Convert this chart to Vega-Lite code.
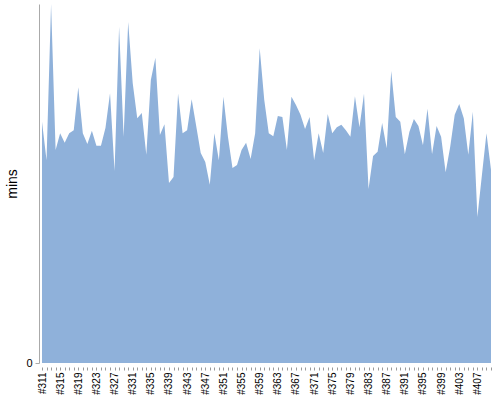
{
  "$schema": "https://vega.github.io/schema/vega-lite/v6.json",
  "autosize": {"type": "none"},
  "padding": {"left": 42, "top": 4, "right": 9, "bottom": 37},
  "width": 449,
  "height": 359,
  "background": "white",
  "config": {"view": {"stroke": null}, "font": "Liberation Sans"},
  "data": {"values": [
    {"run": "#311", "mins": 40.3}, {"run": "#312", "mins": 33.9}, {"run": "#313", "mins": 60.0}, {"run": "#314", "mins": 35.6},
    {"run": "#315", "mins": 38.4}, {"run": "#316", "mins": 36.8}, {"run": "#317", "mins": 38.4}, {"run": "#318", "mins": 38.9},
    {"run": "#319", "mins": 46.1}, {"run": "#320", "mins": 38.4}, {"run": "#321", "mins": 36.6}, {"run": "#322", "mins": 38.8},
    {"run": "#323", "mins": 36.3}, {"run": "#324", "mins": 36.3}, {"run": "#325", "mins": 39.3}, {"run": "#326", "mins": 45.1},
    {"run": "#327", "mins": 32.1}, {"run": "#328", "mins": 56.2}, {"run": "#329", "mins": 37.8}, {"run": "#330", "mins": 57.0},
    {"run": "#331", "mins": 46.8}, {"run": "#332", "mins": 40.9}, {"run": "#333", "mins": 41.8}, {"run": "#334", "mins": 34.8},
    {"run": "#335", "mins": 47.3}, {"run": "#336", "mins": 51.0}, {"run": "#337", "mins": 38.1}, {"run": "#338", "mins": 39.9},
    {"run": "#339", "mins": 30.1}, {"run": "#340", "mins": 31.1}, {"run": "#341", "mins": 45.0}, {"run": "#342", "mins": 38.4},
    {"run": "#343", "mins": 38.9}, {"run": "#344", "mins": 44.1}, {"run": "#345", "mins": 39.6}, {"run": "#346", "mins": 35.1},
    {"run": "#347", "mins": 33.6}, {"run": "#348", "mins": 29.8}, {"run": "#349", "mins": 38.4}, {"run": "#350", "mins": 33.9},
    {"run": "#351", "mins": 44.5}, {"run": "#352", "mins": 37.8}, {"run": "#353", "mins": 32.6}, {"run": "#354", "mins": 33.1},
    {"run": "#355", "mins": 35.6}, {"run": "#356", "mins": 36.8}, {"run": "#357", "mins": 34.1}, {"run": "#358", "mins": 38.4},
    {"run": "#359", "mins": 52.6}, {"run": "#360", "mins": 44.0}, {"run": "#361", "mins": 38.4}, {"run": "#362", "mins": 37.9},
    {"run": "#363", "mins": 41.3}, {"run": "#364", "mins": 41.1}, {"run": "#365", "mins": 35.6}, {"run": "#366", "mins": 44.5},
    {"run": "#367", "mins": 43.1}, {"run": "#368", "mins": 41.5}, {"run": "#369", "mins": 39.1}, {"run": "#370", "mins": 41.1},
    {"run": "#371", "mins": 33.9}, {"run": "#372", "mins": 38.4}, {"run": "#373", "mins": 35.1}, {"run": "#374", "mins": 41.6},
    {"run": "#375", "mins": 38.4}, {"run": "#376", "mins": 39.4}, {"run": "#377", "mins": 39.8}, {"run": "#378", "mins": 38.9},
    {"run": "#379", "mins": 37.8}, {"run": "#380", "mins": 44.6}, {"run": "#381", "mins": 39.4}, {"run": "#382", "mins": 45.0},
    {"run": "#383", "mins": 29.1}, {"run": "#384", "mins": 34.6}, {"run": "#385", "mins": 35.3}, {"run": "#386", "mins": 40.1},
    {"run": "#387", "mins": 35.9}, {"run": "#388", "mins": 48.8}, {"run": "#389", "mins": 41.1}, {"run": "#390", "mins": 40.3},
    {"run": "#391", "mins": 34.9}, {"run": "#392", "mins": 38.6}, {"run": "#393", "mins": 40.8}, {"run": "#394", "mins": 39.6},
    {"run": "#395", "mins": 36.4}, {"run": "#396", "mins": 42.5}, {"run": "#397", "mins": 34.9}, {"run": "#398", "mins": 39.6},
    {"run": "#399", "mins": 37.8}, {"run": "#400", "mins": 31.9}, {"run": "#401", "mins": 36.1}, {"run": "#402", "mins": 41.5},
    {"run": "#403", "mins": 43.3}, {"run": "#404", "mins": 40.9}, {"run": "#405", "mins": 34.8}, {"run": "#406", "mins": 42.0},
    {"run": "#407", "mins": 24.4}, {"run": "#408", "mins": 31.4}, {"run": "#409", "mins": 38.4}, {"run": "#410", "mins": 32.3}
  ]},
  "mark": {"type": "area", "color": "#8fb1da", "interpolate": "linear", "clip": true},
  "encoding": {
    "x": {
      "field": "run", "type": "ordinal", "sort": null,
      "scale": {"type": "point", "padding": 0},
      "axis": {
        "title": null, "labelAngle": -90, "offset": 4, "domain": false,
        "tickSize": 3, "tickColor": "#999", "labelPadding": 2,
        "labelFontSize": 10, "labelColor": "#000", "labelOverlap": false,
        "labelExpr": "toNumber(slice(datum.value, 1)) % 4 == 3 ? datum.value : ''"
      }
    },
    "y": {
      "field": "mins", "type": "quantitative",
      "scale": {"domain": [0, 60], "nice": false, "zero": true},
      "axis": {
        "title": "mins", "values": [0], "offset": 3, "grid": false,
        "domainColor": "#aaa", "tickColor": "#aaa", "tickSize": 4,
        "labelPadding": 3, "labelFontSize": 11, "labelColor": "#000",
        "titleFontSize": 14, "titleFontWeight": "normal", "titleColor": "#000", "titlePadding": 6
      }
    }
  }
}
